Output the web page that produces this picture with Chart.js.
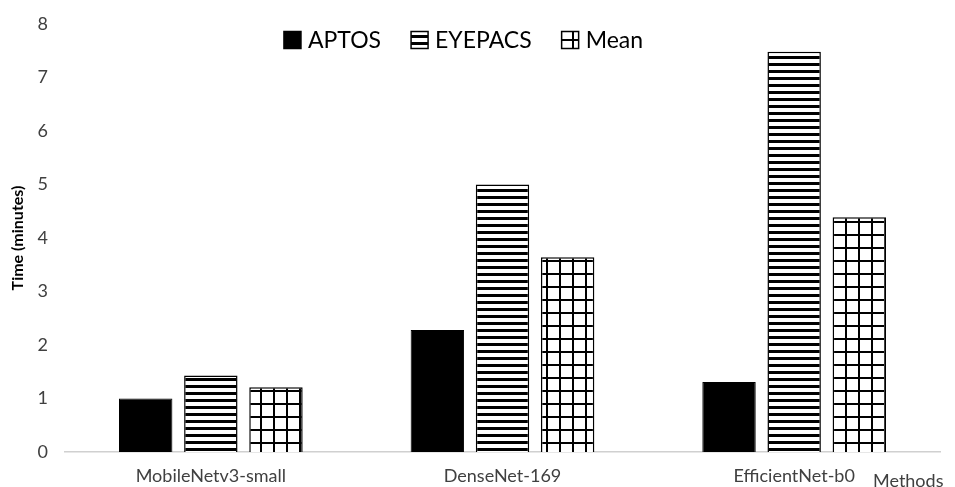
<!DOCTYPE html>
<html>
<head>
<meta charset="utf-8">
<script src="https://cdn.jsdelivr.net/npm/chart.js@4"></script>
<style>
  body { margin: 0; background: #fff; }
  #wrap { width: 955px; height: 487px; }
</style>
</head>
<body>
<div id="wrap"><canvas id="timeChart"></canvas></div>
<script>
const methods = ['MobileNetv3-small', 'DenseNet-169', 'EfficientNet-b0'];
const aptos = [1.0, 2.28, 1.31];
const eyepacs = [1.43, 5.0, 7.48];
const mean = [1.21, 3.64, 4.39];
const yTicks = [0, 1, 2, 3, 4, 5, 6, 7, 8];

const fontFamily = 'Lato, "Open Sans", sans-serif';

// striped fill for EYEPACS
function stripes() {
  const c = document.createElement('canvas');
  c.width = 8; c.height = 7;
  const g = c.getContext('2d');
  g.fillStyle = '#fff';
  g.fillRect(0, 0, 8, 7);
  g.fillStyle = '#000';
  g.fillRect(0, 0, 8, 3);
  return g.createPattern(c, 'repeat');
}

// grid fill for Mean
function grid() {
  const c = document.createElement('canvas');
  c.width = 13; c.height = 13;
  const g = c.getContext('2d');
  g.fillStyle = '#fff';
  g.fillRect(0, 0, 13, 13);
  g.fillStyle = '#000';
  g.fillRect(0, 0, 13, 2);
  g.fillRect(0, 0, 2, 13);
  return g.createPattern(c, 'repeat');
}

// legend sits inside the plot area, so it is drawn here instead of taking layout space
const insideLegend = {
  id: 'insideLegend',
  afterDraw(chart) {
    const ctx = chart.ctx;
    const sets = chart.data.datasets;
    const box = 17, gap = 7, spacing = 30;
    ctx.save();
    ctx.font = '23px ' + fontFamily;
    const widths = sets.map(d => ctx.measureText(d.label).width);
    const total = widths.reduce((a, w) => a + box + gap + w, 0) + spacing * (sets.length - 1);
    let x = chart.width / 2 - 14 - total / 2;
    const y = chart.chartArea.top + 16;
    sets.forEach((d, i) => {
      ctx.fillStyle = d.backgroundColor;
      ctx.fillRect(x, y - box / 2, box, box);
      ctx.strokeStyle = '#000';
      ctx.lineWidth = 1.5;
      ctx.strokeRect(x, y - box / 2, box, box);
      ctx.fillStyle = '#000';
      ctx.textBaseline = 'middle';
      ctx.fillText(d.label, x + box + gap, y + 1);
      x += box + gap + widths[i] + spacing;
    });
    ctx.restore();
  }
};

const methodsLabel = {
  id: 'methodsLabel',
  afterDraw(chart) {
    const ctx = chart.ctx;
    const x = chart.scales.x;
    ctx.save();
    ctx.font = '18px ' + fontFamily;
    ctx.fillStyle = '#404040';
    ctx.textAlign = 'left';
    ctx.textBaseline = 'middle';
    ctx.fillText('Methods', x.right - 67, x.top + 29);
    ctx.restore();
  }
};

const ctx = document.getElementById('timeChart').getContext('2d');
const chart = new Chart(ctx, {
  type: 'bar',
  data: {
    labels: methods,
    datasets: [
      { label: 'APTOS', data: aptos, backgroundColor: '#000', borderColor: '#000', borderWidth: 1 },
      { label: 'EYEPACS', data: eyepacs, backgroundColor: stripes(), borderColor: '#000', borderWidth: 1.5 },
      { label: 'Mean', data: mean, backgroundColor: grid(), borderColor: '#000', borderWidth: 1.5 }
    ]
  },
  plugins: [insideLegend, methodsLabel],
  options: {
    responsive: true,
    maintainAspectRatio: false,
    animation: false,
    layout: { padding: { top: 24, right: 15, left: 8, bottom: 0 } },
    datasets: {
      bar: { barPercentage: 0.82, categoryPercentage: 0.67 }
    },
    plugins: {
      tooltip: { enabled: false },
      legend: { display: false }
    },
    scales: {
      x: {
        afterFit: s => { s.height = 35; },
        grid: { display: false },
        border: { display: true, color: '#d0d0d0', width: 1.5 },
        ticks: { color: '#404040', padding: 5, font: { family: fontFamily, size: 18 } }
      },
      y: {
        min: 0,
        max: 8,
        afterBuildTicks: s => { s.ticks = yTicks.map(v => ({ value: v })); },
        afterFit: s => { s.width = 57; },
        grid: { display: false },
        border: { display: false },
        ticks: { color: '#404040', padding: 9, font: { family: fontFamily, size: 18 } },
        title: {
          display: true,
          text: 'Time (minutes)',
          color: '#000',
          padding: 0,
          font: { family: fontFamily, size: 16, weight: 'bold' }
        }
      }
    }
  }
});
</script>
</body>
</html>
